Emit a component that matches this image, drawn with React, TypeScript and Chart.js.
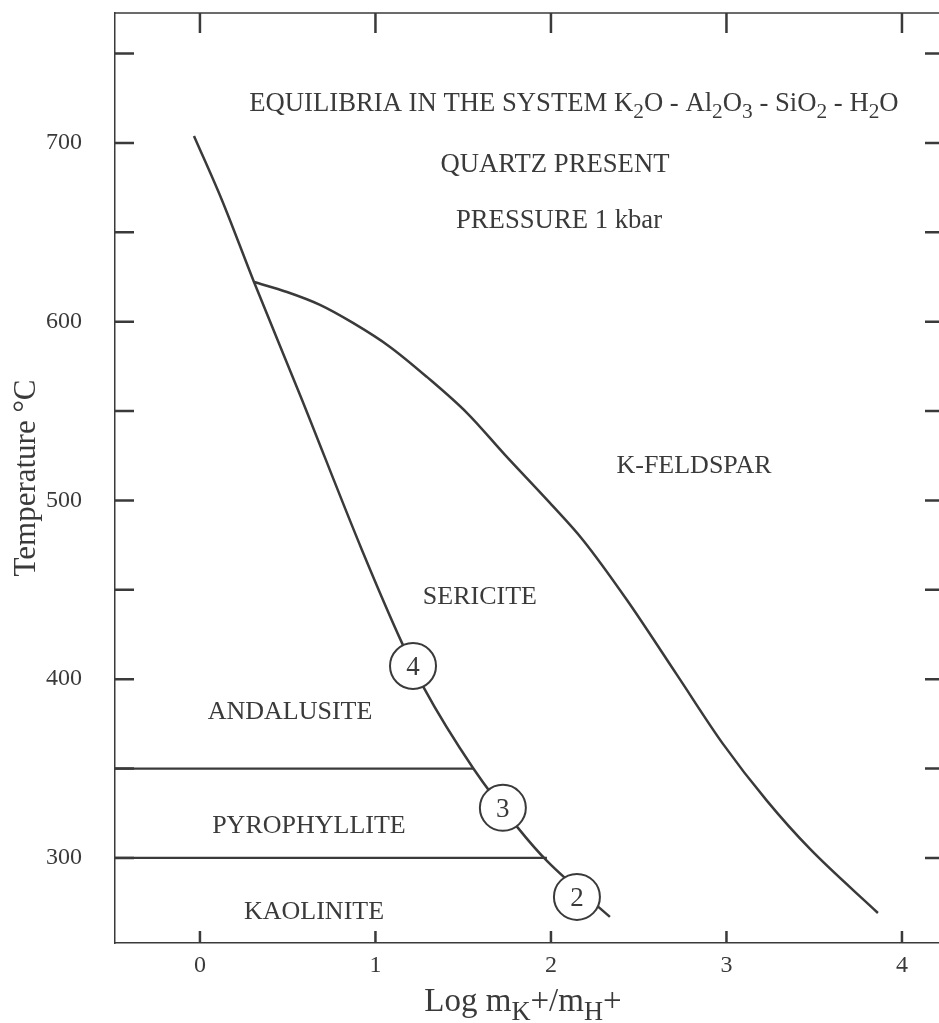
import React, { useEffect, useRef } from 'react';
import { Chart, registerables } from 'chart.js';

Chart.register(...registerables);

const FONT = '"Liberation Serif", "Times New Roman", serif';
const INK = '#3a3a3a';

// Axis ticks
const xTickValues = [0, 1, 2, 3, 4];
const yTickValues = [300, 350, 400, 450, 500, 550, 600, 650, 700, 750];
const yTickLabels = [300, 400, 500, 600, 700];

// Sericite / andalusite-pyrophyllite-kaolinite boundary
const sericiteX = [-0.034, 0.125, 0.308, 0.575, 0.923, 1.151, 1.276, 1.556, 1.812, 1.977, 2.336];
const sericiteY = [703.9, 668.1, 622.2, 557.9, 472.3, 420.3, 395.1, 350.3, 316.8, 298.3, 267.0];

// K-feldspar / sericite boundary
const feldsparX = [0.308, 0.496, 0.684, 0.872, 1.083, 1.293, 1.521, 1.738, 1.994, 2.182, 2.433, 2.718, 2.98, 3.231, 3.476, 3.863];
const feldsparY = [622.2, 616.6, 609.4, 599.3, 585.9, 569.1, 549.0, 525.5, 498.6, 477.9, 444.3, 402.4, 363.8, 331.9, 305.0, 269.2];

// Andalusite / pyrophyllite boundary
const andalusiteX = [-0.484, 1.556];
const andalusiteY = [350, 350];

// Pyrophyllite / kaolinite boundary
const pyrophylliteX = [-0.484, 1.977];
const pyrophylliteY = [300, 300];

// Numbered points
const pointX = [1.214, 1.726, 2.148];
const pointY = [407.4, 328.0, 278.2];
const pointLabels = ['4', '3', '2'];

// Field labels
const regionNames = ['K-FELDSPAR', 'SERICITE', 'ANDALUSITE', 'PYROPHYLLITE', 'KAOLINITE'];
const regionX = [2.815, 1.595, 0.513, 0.621, 0.65];
const regionY = [519.9, 446.6, 382.8, 319.0, 270.9];

// Header text (segments: [text, subscript])
const headerX = [2.131, 2.023, 2.046];
const headerY = [722.9, 688.8, 657.5];
const headerLines: [string, boolean][][] = [
  [['EQUILIBRIA IN THE SYSTEM K', false], ['2', true], ['O - Al', false], ['2', true], ['O', false], ['3', true], [' - SiO', false], ['2', true], [' - H', false], ['2', true], ['O', false]],
  [['QUARTZ PRESENT', false]],
  [['PRESSURE 1 kbar', false]],
];

const xTitle: [string, boolean][] = [['Log m', false], ['K', true], ['+/m', false], ['H', true], ['+', false]];
const yTitle = 'Temperature °C';

const X_MIN = -0.484;
const X_MAX = 4.211;
const Y_MIN = 252.4;
const Y_MAX = 772.7;

function drawRich(ctx: CanvasRenderingContext2D, segs: [string, boolean][], cx: number, cy: number, size: number) {
  const subSize = size * 0.8;
  let total = 0;
  const widths = segs.map(([t, sub]) => {
    ctx.font = `${sub ? subSize : size}px ${FONT}`;
    const w = ctx.measureText(t).width;
    total += w;
    return w;
  });
  let x = cx - total / 2;
  const base = cy + size * 0.331;
  ctx.textAlign = 'left';
  ctx.textBaseline = 'alphabetic';
  segs.forEach(([t, sub], i) => {
    ctx.font = `${sub ? subSize : size}px ${FONT}`;
    ctx.fillText(t, x, sub ? base + size * 0.27 : base);
    x += widths[i];
  });
}

const zeroPad = (s: any) => {
  s.paddingTop = 0;
  s.paddingBottom = 0;
  s.paddingLeft = 0;
  s.paddingRight = 0;
};

const decorPlugin = {
  id: 'decor',
  afterDraw(chart: any) {
    const ctx: CanvasRenderingContext2D = chart.ctx;
    const { left, right, top, bottom } = chart.chartArea;
    const xs = chart.scales.x;
    const ys = chart.scales.y;
    ctx.save();
    ctx.strokeStyle = INK;
    ctx.fillStyle = INK;
    // top border
    ctx.lineWidth = 1.5;
    ctx.beginPath();
    ctx.moveTo(left, top);
    ctx.lineTo(right, top);
    ctx.stroke();
    // inward ticks
    ctx.lineWidth = 2.5;
    ctx.beginPath();
    xTickValues.forEach((v) => {
      const px = xs.getPixelForValue(v);
      ctx.moveTo(px, top);
      ctx.lineTo(px, top + 20);
      ctx.moveTo(px, bottom);
      ctx.lineTo(px, bottom - 12);
    });
    yTickValues.forEach((v) => {
      const py = ys.getPixelForValue(v);
      ctx.moveTo(left, py);
      ctx.lineTo(left + 19, py);
      ctx.moveTo(right, py);
      ctx.lineTo(right - 14, py);
    });
    ctx.stroke();
    // header
    headerLines.forEach((segs, i) => {
      drawRich(ctx, segs, xs.getPixelForValue(headerX[i]), ys.getPixelForValue(headerY[i]), 26.7);
    });
    // region labels
    regionNames.forEach((name, i) => {
      drawRich(ctx, [[name, false]], xs.getPixelForValue(regionX[i]), ys.getPixelForValue(regionY[i]), 26);
    });
    // numbered points
    const meta = chart.getDatasetMeta(0);
    meta.data.forEach((el: any, i: number) => {
      ctx.font = `27px ${FONT}`;
      ctx.textAlign = 'center';
      ctx.textBaseline = 'alphabetic';
      ctx.fillText(pointLabels[i], el.x, el.y + 27 * 0.338);
    });
    // x title
    drawRich(ctx, xTitle, (left + right) / 2 - 4, 1000, 33);
    ctx.restore();
  },
};

export default function App() {
  const ref = useRef<HTMLCanvasElement | null>(null);
  useEffect(() => {
    if (!ref.current) return;
    const line = (xs: number[], ys: number[]) => xs.map((x, i) => ({ x, y: ys[i] }));
    const lineStyle = {
      showLine: true,
      pointRadius: 0,
      borderColor: INK,
      borderWidth: 2.5,
      fill: false,
    };
    const chart = new Chart(ref.current, {
      type: 'scatter',
      data: {
        datasets: [
          {
            label: 'points',
            data: line(pointX, pointY),
            showLine: false,
            pointRadius: 23,
            pointBackgroundColor: '#ffffff',
            pointBorderColor: INK,
            pointBorderWidth: 2,
            order: -1,
          } as any,
          { label: 'sericite', data: line(sericiteX, sericiteY), ...lineStyle, cubicInterpolationMode: 'monotone' } as any,
          { label: 'feldspar', data: line(feldsparX, feldsparY), ...lineStyle, cubicInterpolationMode: 'monotone' } as any,
          { label: 'andalusite', data: line(andalusiteX, andalusiteY), ...lineStyle, borderWidth: 2.2 } as any,
          { label: 'pyrophyllite', data: line(pyrophylliteX, pyrophylliteY), ...lineStyle, borderWidth: 2.2 } as any,
        ],
      },
      options: {
        animation: false,
        responsive: false,
        events: [],
        layout: { autoPadding: false, padding: { top: 13, left: 0, right: 0, bottom: 0 } },
        plugins: { legend: { display: false }, tooltip: { enabled: false } },
        scales: {
          x: {
            type: 'linear',
            min: X_MIN,
            max: X_MAX,
            position: 'bottom',
            afterBuildTicks: (s: any) => {
              s.ticks = xTickValues.map((v) => ({ value: v }));
            },
            afterFit: (s: any) => {
              s.height = 80;
              zeroPad(s);
            },
            grid: { display: false, drawTicks: false },
            border: { display: true, color: INK, width: 1.5 },
            ticks: {
              padding: 8,
              color: INK,
              font: { family: FONT, size: 24 },
              maxRotation: 0,
              autoSkip: false,
              callback: (v: any) => String(v),
            },
          },
          y: {
            type: 'linear',
            min: Y_MIN,
            max: Y_MAX,
            afterBuildTicks: (s: any) => {
              s.ticks = yTickValues.map((v) => ({ value: v }));
            },
            afterFit: (s: any) => {
              s.width = 115;
              zeroPad(s);
            },
            grid: { display: false, drawTicks: false },
            border: { display: true, color: INK, width: 1.5 },
            ticks: {
              padding: 33,
              color: INK,
              font: { family: FONT, size: 24 },
              autoSkip: false,
              callback: (v: any) => (yTickLabels.includes(Number(v)) ? String(v) : ''),
            },
            title: {
              display: true,
              text: yTitle,
              color: INK,
              font: { family: FONT, size: 31 },
              padding: { top: 8, bottom: 0 },
            },
          },
        },
      } as any,
      plugins: [decorPlugin],
    });
    return () => chart.destroy();
  }, []);
  return (
    <div style={{ position: 'absolute', left: 0, top: 0, width: 939, height: 1023, background: '#fff' }}>
      <canvas ref={ref} width={939} height={1023} style={{ display: 'block' }} />
    </div>
  );
}
